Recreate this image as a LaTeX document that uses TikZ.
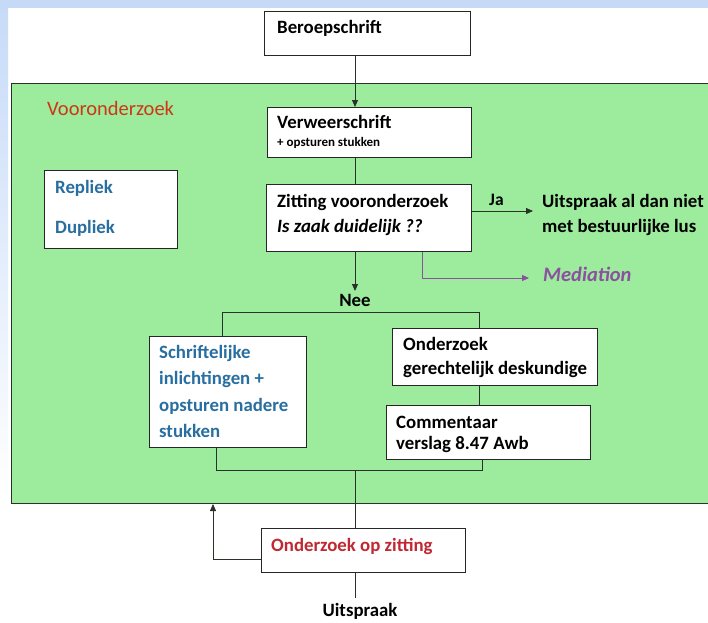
\documentclass[tikz,border=0pt]{standalone}
\usepackage{fontspec}
\setmainfont{Carlito}
\usetikzlibrary{arrows.meta}
\definecolor{bgblue}{RGB}{198,218,248}
\definecolor{grn}{RGB}{157,235,157}
\definecolor{txtblue}{RGB}{40,110,160}
\definecolor{vred}{RGB}{205,55,20}
\definecolor{ored}{RGB}{192,40,50}
\definecolor{purp}{RGB}{140,80,160}
\definecolor{lin}{RGB}{40,50,40}
\tikzset{
  box/.style={draw=black!85, fill=white, line width=0.8pt, inner sep=0pt, anchor=north west},
  txt/.style={anchor=base west, inner sep=0pt, font=\bfseries\fontsize{18.8}{21}\selectfont},
  smalltxt/.style={anchor=base west, inner sep=0pt, font=\bfseries\fontsize{13}{15}\selectfont},
  conn/.style={draw=lin, line width=0.8pt},
  arr/.style={conn, -{Triangle[length=7pt,width=6pt]}},
  medarr/.style={draw=purp, line width=0.8pt, -{Triangle[length=7pt,width=6pt]}}
}
\begin{document}
\begin{tikzpicture}[x=1pt,y=-1pt]
\useasboundingbox (0,0) rectangle (708,622);
\fill[white] (0,0) rectangle (708,622);
\shade[top color=bgblue, bottom color=white] (0,0) rectangle (8,500);
\fill[bgblue] (0,0) rectangle (708,8);

% green area
\node[draw=lin, fill=grn, line width=1pt, minimum width=705, minimum height=420, inner sep=0pt, anchor=north west] (green) at (11,83) {};

% boxes
\node[box, minimum width=206, minimum height=44] (ber) at (264,11) {};
\node[box, minimum width=204, minimum height=50] (ver) at (267,107) {};
\node[box, minimum width=205, minimum height=67] (zit) at (266,184) {};
\node[box, minimum width=133, minimum height=78] (rep) at (44,170) {};
\node[box, minimum width=205, minimum height=57] (ond) at (392,328) {};
\node[box, minimum width=204, minimum height=54] (com) at (386,405) {};
\node[box, minimum width=157, minimum height=111] (sch) at (149,336) {};
\node[box, minimum width=204, minimum height=44] (ozz) at (261,528) {};

% texts
\node[txt] (tber) at (277,33) {Beroepschrift};
\node[txt, text=vred, font=\fontsize{20.5}{23}\selectfont] (tvo) at (47,115) {Vooronderzoek};
\node[txt] (tver) at (277,128) {Verweerschrift};
\node[smalltxt] (tver2) at (277,146) {+ opsturen stukken};
\node[txt] (tzit1) at (277,207) {Zitting vooronderzoek};
\node[txt, font=\bfseries\itshape\fontsize{18.8}{21}\selectfont] (tzit2) at (277,232) {Is zaak duidelijk ??};
\node[txt, text=txtblue] (trep) at (55,193) {Repliek};
\node[txt, text=txtblue] (tdup) at (55,233) {Dupliek};
\node[txt, font=\bfseries\fontsize{17.5}{19}\selectfont] (tja) at (489,205) {Ja};
\node[txt] (tuit1) at (542,207) {Uitspraak al dan niet};
\node[txt] (tuit2) at (542,232) {met bestuurlijke lus};
\node[txt, text=purp, font=\bfseries\itshape\fontsize{20.5}{23}\selectfont] (tmed) at (543,281) {Mediation};
\node[txt, anchor=base] (tnee) at (355,306) {Nee};
\node[txt, text=txtblue] (tsch1) at (159,358) {Schriftelijke};
\node[txt, text=txtblue] (tsch2) at (159,384) {inlichtingen +};
\node[txt, text=txtblue] (tsch3) at (159,411) {opsturen nadere};
\node[txt, text=txtblue] (tsch4) at (159,437) {stukken};
\node[txt] (tond1) at (403,350) {Onderzoek};
\node[txt] (tond2) at (403,374) {gerechtelijk deskundige};
\node[txt] (tcom1) at (396,428) {Commentaar};
\node[txt] (tcom2) at (396,449) {verslag 8.47 Awb};
\node[txt, text=ored] (tozz) at (271,551) {Onderzoek op zitting};
\node[txt, anchor=base] (tuitsp) at (360,616) {Uitspraak};

% helper coordinates
\coordinate (spine) at (355,0);
\coordinate (jaend) at (533,211);
\coordinate (medturn) at (422,278);
\coordinate (medend) at (529,278);
\coordinate (neeend) at (355,291);
\coordinate (brl) at (222,312);
\coordinate (brr) at (479,312);
\coordinate (bbl) at (216,470);
\coordinate (bbr) at (482,470);
\coordinate (bbm) at (355,470);
\coordinate (loopc) at (213,559);
\coordinate (loopend) at (213,504);
\coordinate (outend) at (355,598);

% connectors
\draw[arr] (ber.south -| spine) -- (ver.north -| spine);
\draw[conn] (ver.south -| spine) -- (zit.north -| spine);
\draw[arr] (zit.east |- jaend) -- (jaend);
\draw[medarr] (zit.south -| medturn) -- (medturn) -- (medend);
\draw[arr] (zit.south -| spine) -- (neeend);
\draw[conn] (sch.north -| brl) -- (brl) -- (brr) -- (ond.north -| brr);
\draw[conn] (ond.south -| brr) -- (com.north -| brr);
\draw[conn] (sch.south -| bbl) -- (bbl) -- (bbr) -- (com.south -| bbr);
\draw[conn] (bbm) -- (ozz.north -| bbm);
\draw[arr] (ozz.west |- loopc) -- (loopc) -- (loopend);
\draw[conn] (ozz.south -| spine) -- (outend);
\end{tikzpicture}
\end{document}
